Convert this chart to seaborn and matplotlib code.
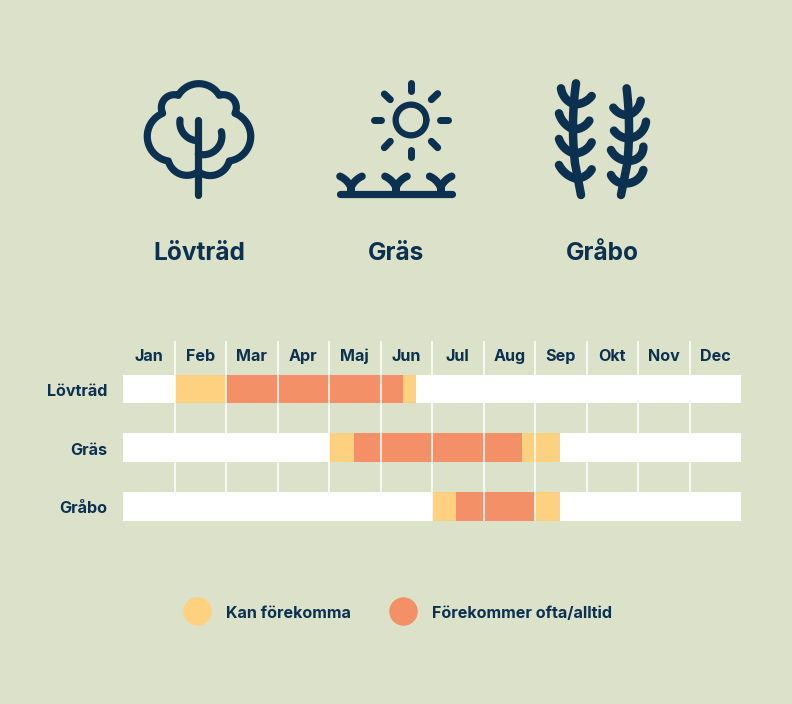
import numpy as np
import matplotlib
matplotlib.use("Agg")
import matplotlib.pyplot as plt
from matplotlib.transforms import ScaledTranslation
import seaborn as sns

# Pollen season per species, in months from the start of January
species = ["Lövträd", "Gräs", "Gråbo"]
months = ["Jan", "Feb", "Mar", "Apr", "Maj", "Jun", "Jul", "Aug", "Sep", "Okt", "Nov", "Dec"]
may_start = [1.0, 4.0, 6.0]
often_start = [2.0, 4.49, 6.47]
often_end = [5.43, 7.75, 8.0]
may_end = [5.68, 8.49, 8.49]
year_end = [12, 12, 12]
legend_labels = ["Kan förekomma", "Förekommer ofta/alltid"]

BG = "#dce2c9"
NAVY = "#0c3050"
YELLOW = "#fdd17f"
ORANGE = "#f49068"
WHITE = "#ffffff"
FONT = "Inter"
W, H = 792, 704

sns.set_theme(style="white")
plt.rcParams["font.family"] = [FONT, "DejaVu Sans"]

fig = plt.figure(figsize=(W / 100, H / 100), dpi=100, facecolor=BG)


def px_axes(x0, y0, x1, y1):
    """Axes placed by pixel box, y measured from the top of the figure."""
    return fig.add_axes([x0 / W, 1 - y1 / H, (x1 - x0) / W, (y1 - y0) / H])


# Season chart: later layers paint over earlier ones, leaving the bands visible
ROW = 58.5
TOP, BOTTOM = 341, 520.5
ax = px_axes(123, TOP, 741, BOTTOM)
ax.set_facecolor("none")
for values, colour in [(year_end, WHITE), (may_end, YELLOW), (often_end, ORANGE),
                       (often_start, YELLOW), (may_start, WHITE)]:
    sns.barplot(x=values, y=species, color=colour, saturation=1, width=28.5 / ROW,
                orient="h", linewidth=0, ax=ax, zorder=2)

ax.set_xlim(0, 12)
ax.set_ylim(2 + 14.25 / ROW, -(389.2 - TOP) / ROW)
ax.set_xlabel("")
ax.set_ylabel("")
sns.despine(ax=ax, left=True, bottom=True, top=True, right=True)

# Month boundaries as grid lines, month names centred between them
ax.set_xticks(np.arange(1, 12))
ax.set_xticklabels([])
ax.set_xticks(np.arange(12) + 0.5, minor=True)
ax.set_xticklabels(months, minor=True, fontsize=11.6, fontweight="bold", color=NAVY)
ax.xaxis.tick_top()
ax.tick_params(axis="x", which="both", length=0, pad=-14.4)
ax.xaxis.grid(True, which="major", color=WHITE, linewidth=1.1, zorder=3)
ax.yaxis.grid(False)
ax.set_axisbelow(False)
for label in ax.get_xticklabels(minor=True):
    label.set_verticalalignment("baseline")
ax.tick_params(axis="y", length=0, pad=11, labelsize=11.6, labelcolor=NAVY)

# Row names sit on a shared baseline a little below each bar's centre
drop = ScaledTranslation(0, -0.07, fig.dpi_scale_trans)
for label in ax.get_yticklabels():
    label.set_fontweight("bold")
    label.set_verticalalignment("baseline")
    label.set_transform(label.get_transform() + drop)

# Overlay in pixel coordinates for the icons, headings and legend
ov = fig.add_axes([0, 0, 1, 1], facecolor="none")
ov.set_xlim(0, W)
ov.set_ylim(H, 0)
ov.axis("off")


def arc(p0, p1, p2, n=30):
    """Points on the circular arc running through three points."""
    (ax_, ay), (bx, by), (cx, cy) = p0, p1, p2
    d = 2 * (ax_ * (by - cy) + bx * (cy - ay) + cx * (ay - by))
    if abs(d) < 1e-6:
        return np.array([p0, p1, p2], dtype=float)
    ux = ((ax_**2 + ay**2) * (by - cy) + (bx**2 + by**2) * (cy - ay) + (cx**2 + cy**2) * (ay - by)) / d
    uy = ((ax_**2 + ay**2) * (cx - bx) + (bx**2 + by**2) * (ax_ - cx) + (cx**2 + cy**2) * (bx - ax_)) / d
    a0 = np.arctan2(ay - uy, ax_ - ux)
    a1 = np.arctan2(by - uy, bx - ux)
    a2 = np.arctan2(cy - uy, cx - ux)
    sweep = (a2 - a0) % (2 * np.pi)
    if (a1 - a0) % (2 * np.pi) > sweep:
        sweep -= 2 * np.pi
    t = a0 + np.linspace(0, sweep, n)
    r = np.hypot(ax_ - ux, ay - uy)
    return np.column_stack([ux + r * np.cos(t), uy + r * np.sin(t)])


def stroke(points, width, origin=(0, 0), scale=1 / 3):
    pts = np.asarray(points, dtype=float) * scale + np.asarray(origin)
    ov.plot(pts[:, 0], pts[:, 1], color=NAVY, lw=width * 0.72,
            solid_capstyle="round", solid_joinstyle="round")


def bend(p0, p1, p2, width, origin):
    stroke(arc(p0, p1, p2), width, origin)


# Tree icon: crown outline of joined lobes, trunk and two branches
tree = (120, 60)
lobes = [
    ((235, 335), (190, 345), (145, 303)),
    ((145, 303), (82, 235), (128, 160)),
    ((128, 160), (133, 118), (175, 106)),
    ((175, 106), (235, 71), (298, 106)),
    ((298, 106), (340, 118), (345, 160)),
    ((345, 160), (392, 235), (328, 303)),
    ((328, 303), (285, 345), (235, 335)),
]
stroke(np.vstack([arc(*lobe) for lobe in lobes]), 7.2, tree)
stroke([(235, 180), (235, 405)], 7.2, tree)
bend((180, 180), (192, 222), (235, 242), 7.2, tree)
bend((304, 215), (292, 265), (235, 282), 7.2, tree)

# Sun and grass icon
sun = (325, 70)
t = np.linspace(0, 2 * np.pi, 100)
stroke(np.column_stack([258 + 46 * np.cos(t), 150 + 46 * np.sin(t)]), 6.3, sun)
for ray in [((258, 40), (258, 62)), ((258, 240), (258, 262)), ((146, 151), (169, 151)),
            ((346, 151), (369, 151)), ((178, 72), (196, 89)), ((338, 71), (319, 89)),
            ((178, 233), (196, 214)), ((338, 233), (319, 214))]:
    stroke(ray, 7, sun)
stroke([(45, 373), (382, 373)], 7.2, sun)
for cx in (78, 213, 347):
    stroke([(cx, 372), (cx, 350)], 8, sun)
    bend((cx - 33, 319), (cx - 15, 331), (cx, 352), 7.6, sun)
    bend((cx + 33, 319), (cx + 15, 331), (cx, 352), 7.6, sun)

# Mugwort icon: two stems with paired side shoots
herb = (540, 70)
stroke(np.vstack([arc((108, 40), (99, 160), (105, 280)), [(123, 375)]]), 8.5, herb)
stroke(np.vstack([arc((260, 55), (267, 170), (262, 280)), [(243, 375)]]), 8.5, herb)
for tip, mid, join in [
    ((63, 55), (74, 82), (100, 102)), ((57, 130), (72, 158), (100, 178)),
    ((57, 207), (72, 232), (102, 250)), ((57, 285), (77, 310), (105, 325)),
    ((155, 78), (135, 95), (105, 103)), ((148, 152), (130, 170), (103, 178)),
    ((155, 217), (135, 240), (103, 250)), ((155, 298), (135, 318), (108, 325)),
    ((220, 113), (240, 130), (265, 135)), ((222, 182), (240, 198), (265, 205)),
    ((213, 240), (232, 262), (265, 272)), ((213, 315), (232, 335), (255, 340)),
    ((302, 92), (290, 118), (265, 135)), ((318, 155), (305, 185), (265, 205)),
    ((310, 230), (300, 258), (265, 272)), ((310, 300), (290, 330), (255, 340)),
]:
    bend(tip, mid, join, 8.5, herb)

# Headings under the icons
for name, x in zip(species, (199, 396, 602)):
    ov.text(x, 259.5, name, ha="center", va="baseline", fontsize=17.6, fontweight="bold", color=NAVY)

# Legend
for (label, colour, cx) in zip(legend_labels, (YELLOW, ORANGE), (197, 403)):
    ov.scatter([cx], [610.8], s=(28.5 * 0.72) ** 2, color=colour, linewidth=0)
    ov.text(cx + 29, 617.5, label, ha="left", va="baseline", fontsize=11.6,
            fontweight="bold", color=NAVY)

fig.savefig("out.png", dpi=100, facecolor=BG)
